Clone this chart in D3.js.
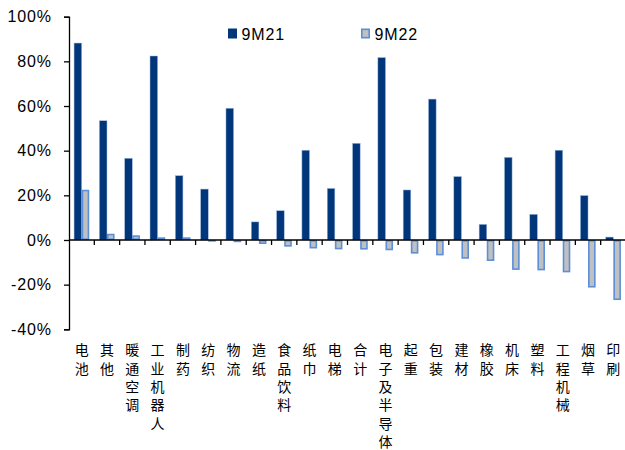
<!DOCTYPE html>
<html>
<head>
<meta charset="utf-8">
<script src="https://cdn.jsdelivr.net/npm/d3@7"></script>
<style>
  html, body { margin: 0; padding: 0; background: #fff; }
  svg { display: block; }
</style>
</head>
<body>
<svg id="chart" width="625" height="450"></svg>
<script>
// Industry categories (x axis)
const categories = ["电池", "其他", "暖通空调", "工业机器人", "制药", "纺织", "物流", "造纸", "食品饮料", "纸巾", "电梯", "合计", "电子及半导体", "起重", "包装", "建材", "橡胶", "机床", "塑料", "工程机械", "烟草", "印刷"];

// Year-on-year growth, %
const values9M21 = [88.2, 53.4, 36.6, 82.4, 28.8, 22.8, 59.0, 8.1, 13.1, 40.2, 23.1, 43.3, 81.7, 22.4, 63.1, 28.4, 7.0, 37.0, 11.5, 40.2, 19.9, 1.3];
const values9M22 = [22.5, 2.8, 2.1, 1.2, 1.2, -0.3, -1.0, -1.8, -3.0, -3.8, -4.2, -4.3, -4.6, -6.1, -6.9, -8.4, -9.4, -13.4, -13.6, -14.5, -21.3, -26.9];

const seriesNames = ["9M21", "9M22"];
const yTicks = [-40, -20, 0, 20, 40, 60, 80, 100];

const svg = d3.select("#chart");
const plotLeft = 69, plotRight = 626, plotTop = 16.7, plotBottom = 329.3;

const x = d3.scaleBand().domain(categories).range([plotLeft, plotRight]).padding(0);
const y = d3.scaleLinear().domain([-40, 100]).range([plotBottom, plotTop]);

const barW = 7.6;
const navy = "#01367a";
const grayFill = "#c0c0c0";
const blueEdge = "#5b8fd8";
const numFont = "'Liberation Sans', Arial, sans-serif";

// Y axis
const yAxis = d3.axisLeft(y).tickValues(yTicks).tickSize(5).tickFormat(d => d + "%");
const gy = svg.append("g").attr("transform", `translate(${plotLeft},0)`).call(yAxis);
gy.select(".domain").attr("stroke", "#000").attr("stroke-width", 1.3);
gy.selectAll(".tick line").attr("stroke", "#000").attr("stroke-width", 1.3);
gy.selectAll(".tick text")
  .attr("x", -17)
  .attr("font-family", numFont)
  .attr("font-size", 16)
  .attr("letter-spacing", "0.9px")
  .attr("fill", "#000");

// Bars: 9M21
svg.append("g").selectAll("rect").data(categories).join("rect")
  .attr("x", d => x(d) + x.bandwidth() / 2 - barW)
  .attr("width", barW)
  .attr("y", (d, i) => y(Math.max(0, values9M21[i])))
  .attr("height", (d, i) => Math.abs(y(values9M21[i]) - y(0)))
  .attr("fill", navy)
  .attr("stroke", "#9fb9dd")
  .attr("stroke-width", 0.5);

// Bars: 9M22 (grey with blue outline, drawn inside the bar extent)
const sw = 1.6;
svg.append("g").selectAll("rect").data(categories).join("rect")
  .attr("x", d => x(d) + x.bandwidth() / 2 + sw / 2)
  .attr("width", barW - sw)
  .attr("y", (d, i) => y(Math.max(0, values9M22[i])) + sw / 2)
  .attr("height", (d, i) => Math.max(0.1, Math.abs(y(values9M22[i]) - y(0)) - sw))
  .attr("fill", grayFill)
  .attr("stroke", blueEdge)
  .attr("stroke-width", sw);

// X axis line at zero, with ticks at category boundaries
const y0 = y(0);
svg.append("line")
  .attr("x1", plotLeft).attr("x2", plotRight)
  .attr("y1", y0).attr("y2", y0)
  .attr("stroke", "#000").attr("stroke-width", 1.3);
svg.append("g").selectAll("line").data(categories.slice(1)).join("line")
  .attr("x1", d => x(d)).attr("x2", d => x(d))
  .attr("y1", y0).attr("y2", y0 + 5)
  .attr("stroke", "#000").attr("stroke-width", 1.3);

// Category labels, written vertically one character per line
const labels = svg.append("g")
  .attr("font-family", "'Noto Sans CJK SC', sans-serif")
  .attr("font-size", 14)
  .attr("fill", "#000")
  .attr("text-anchor", "middle");
categories.forEach(c => {
  const cx = x(c) + x.bandwidth() / 2;
  Array.from(c).forEach((ch, k) => {
    labels.append("text")
      .attr("x", cx)
      .attr("y", 350.3 + k * 18.3)
      .attr("dy", "0.36em")
      .text(ch);
  });
});

// Legend
const legend = [
  { name: seriesNames[0], x: 228, fill: navy, stroke: "none" },
  { name: seriesNames[1], x: 361, fill: grayFill, stroke: blueEdge }
];
legend.forEach(l => {
  const g = svg.append("g");
  if (l.stroke === "none") {
    g.append("rect").attr("x", l.x).attr("y", 28.5).attr("width", 9).attr("height", 10).attr("fill", l.fill);
  } else {
    g.append("rect").attr("x", l.x + 0.8).attr("y", 29.3).attr("width", 7.4).attr("height", 8.4)
      .attr("fill", l.fill).attr("stroke", l.stroke).attr("stroke-width", 1.6);
  }
  g.append("text")
    .attr("x", l.x + 13.5)
    .attr("y", 39.5)
    .attr("font-family", numFont)
    .attr("font-size", 16)
    .attr("letter-spacing", "0.9px")
    .attr("fill", "#000")
    .text(l.name);
});
</script>
</body>
</html>
